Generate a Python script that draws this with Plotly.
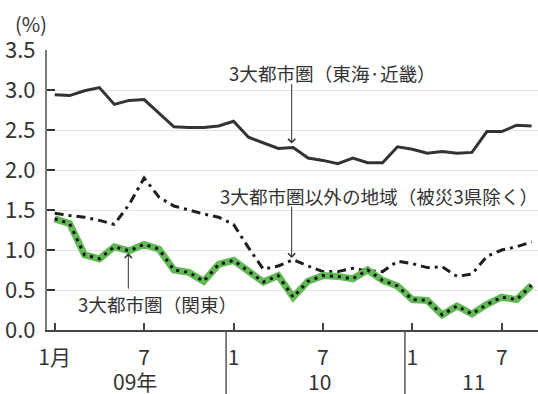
import plotly.graph_objects as go

# Monthly jobless rate by region, Jan 2009 - Sep 2011 (%)
months = [f"{y}-{m:02d}" for y in (2009, 2010, 2011) for m in range(1, 13)][:33]

tokai_kinki = [2.94, 2.93, 2.99, 3.03, 2.82, 2.87, 2.88, 2.71, 2.54, 2.53, 2.53, 2.55,
               2.61, 2.41, 2.34, 2.27, 2.28, 2.15, 2.12, 2.08, 2.15, 2.09, 2.09, 2.29,
               2.26, 2.21, 2.23, 2.21, 2.22, 2.48, 2.48, 2.56, 2.55]

other_regions = [1.46, 1.43, 1.41, 1.37, 1.32, 1.57, 1.90, 1.66, 1.55, 1.50, 1.45, 1.41,
                 1.32, 1.03, 0.76, 0.80, 0.88, 0.80, 0.73, 0.73, 0.77, 0.74, 0.73, 0.86,
                 0.83, 0.78, 0.79, 0.67, 0.70, 0.92, 1.00, 1.04, 1.10]

kanto = [1.39, 1.33, 0.94, 0.89, 1.04, 0.99, 1.07, 1.01, 0.75, 0.72, 0.61, 0.82,
         0.87, 0.74, 0.60, 0.68, 0.41, 0.61, 0.68, 0.67, 0.64, 0.75, 0.62, 0.55,
         0.38, 0.37, 0.19, 0.30, 0.20, 0.32, 0.41, 0.38, 0.56]

tick_months = [0, 6, 12, 18, 24, 30]
tick_labels = ["1月", "7", "1", "7", "1", "7"]
year_labels = ["09年", "10", "11"]
y_ticks = [0.0, 0.5, 1.0, 1.5, 2.0, 2.5, 3.0, 3.5]

x = list(range(len(months)))
FONT = "Noto Sans CJK JP"
TXT = "#333333"

fig = go.Figure()

fig.add_trace(go.Scatter(x=x, y=tokai_kinki, mode="lines", text=months,
                         line=dict(color="#333333", width=3), showlegend=False))
fig.add_trace(go.Scatter(x=x, y=other_regions, mode="lines", text=months,
                         line=dict(color="#1e1e1e", width=3, dash="9px,5px,3px,5px"),
                         showlegend=False))
# Kanto: thick green band with a black dotted line on top
fig.add_trace(go.Scatter(x=x, y=kanto, mode="lines", text=months,
                         line=dict(color="#62b957", width=7), showlegend=False))
fig.add_trace(go.Scatter(x=x, y=kanto, mode="lines", text=months,
                         line=dict(color="#111111", width=3, dash="3px,5px"),
                         showlegend=False))

# year separators below the axis
for sep in (11.5, 23.5):
    fig.add_shape(type="line", xref="x", yref="paper", x0=sep, x1=sep, y0=0, y1=-0.24,
                  line=dict(color="#555555", width=1.5))

annotations = []
for xc, lab in zip((5.4, 17.75, 28.07), year_labels):
    annotations.append(dict(x=xc, y=-0.183, xref="x", yref="paper", text=lab,
                            showarrow=False, xanchor="center", yanchor="middle",
                            font=dict(family=FONT, size=21, color=TXT)))

annotations.append(dict(x=-0.07, y=1.095, xref="paper", yref="paper", text="(%)",
                        showarrow=False, xanchor="left", yanchor="middle",
                        font=dict(family=FONT, size=20, color=TXT)))

label_font = dict(family=FONT, size=18.6, color=TXT)
annotations += [
    dict(x=0.3666, y=0.921, xref="paper", yref="paper", text="3大都市圏（東海·近畿）",
         showarrow=False, xanchor="left", yanchor="middle", font=label_font),
    dict(x=0.3483, y=0.482, xref="paper", yref="paper", text="3大都市圏以外の地域（被災3県除く）",
         showarrow=False, xanchor="left", yanchor="middle", font=label_font),
    dict(x=0.059, y=0.096, xref="paper", yref="paper", text="3大都市圏（関東）",
         showarrow=False, xanchor="left", yanchor="middle", font=label_font),
]

arrow_style = dict(xref="x", yref="y", text="", showarrow=True, arrowhead=4,
                   arrowsize=1.4, arrowwidth=1, arrowcolor="#333333", ax=0, standoff=0)
annotations += [
    dict(x=15.9, y=2.33, ay=-61, **arrow_style),
    dict(x=15.9, y=0.90, ay=-53, **arrow_style),
    dict(x=4.94, y=0.96, ay=37, **arrow_style),
]

fig.update_layout(
    width=538, height=394,
    margin=dict(l=47, r=0, t=50, b=64),
    paper_bgcolor="white", plot_bgcolor="white",
    font=dict(family=FONT, color=TXT),
    annotations=annotations,
    xaxis=dict(range=[-0.517, 32.43], tickmode="array", tickvals=tick_months,
               ticktext=tick_labels, ticks="inside", ticklen=7, tickwidth=1.5,
               tickcolor="#444444", showline=True, linecolor="#444444", linewidth=2,
               showgrid=False, zeroline=False, ticklabelstandoff=8,
               tickfont=dict(family=FONT, size=21, color=TXT)),
    yaxis=dict(range=[0, 3.5], tickmode="array", tickvals=y_ticks,
               ticktext=[f"{v:.1f}" for v in y_ticks], ticks="inside", ticklen=8,
               tickwidth=1.5, tickcolor="#333333", showline=True, linecolor="#7a7a7a",
               linewidth=2, showgrid=True, gridcolor="#dcebd6", gridwidth=1,
               zeroline=False, ticklabelstandoff=5,
               tickfont=dict(family=FONT, size=22, color=TXT)),
)

fig.write_html("out.html")
